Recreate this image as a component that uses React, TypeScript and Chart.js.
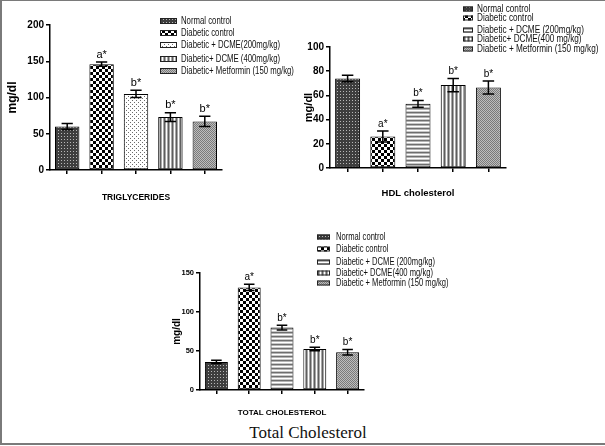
import React, { useEffect, useRef } from "react";
import { Chart, registerables } from "chart.js";

Chart.register(...registerables);

// ---------------- data ----------------
const tgLabels = [
  "Normal control",
  "Diabetic control",
  "Diabetic + DCME(200mg/kg)",
  "Diabetic+ DCME (400mg/kg)",
  "Diabetic+ Metformin (150 mg/kg)",
];
const tgMeans = [60, 146, 105, 73, 67];
const tgErrors = [4, 3, 5, 6, 7];

const hdlLabels = [
  "Normal control",
  "Diabetic control",
  "Diabetic + DCME (200mg/kg)",
  "Diabetic+ DCME(400 mg/kg)",
  "Diabetic + Metformin (150 mg/kg)",
];
const hdlMeans = [74, 26, 53, 68.5, 66.5];
const hdlErrors = [2.7, 4.5, 2.8, 5.5, 5.3];

const tcLabels = [
  "Normal control",
  "Diabetic control",
  "Diabetic + DCME (200mg/kg)",
  "Diabetic+ DCME(400 mg/kg)",
  "Diabetic + Metformin (150 mg/kg)",
];
const tcMeans = [36, 131.5, 80, 52.5, 48.5];
const tcErrors = [2, 4, 3, 2.3, 3.5];

const sigLabels = ["", "a*", "b*", "b*", "b*"];

const tgPatterns = ["dark", "checker", "dots", "vstripes", "fine"];
const hdlPatterns = ["dark", "checker", "hstripes", "vstripes", "fine"];
const tcPatterns = ["dark", "checker", "hstripes", "vstripes", "fine"];

const FONT = "'Liberation Sans', Arial, sans-serif";

// ---------------- patterns ----------------
function makePattern(kind: string): CanvasPattern | string {
  const c = document.createElement("canvas");
  const ctx = c.getContext("2d")!;
  const px = (x: number, y: number, col: string) => {
    ctx.fillStyle = col;
    ctx.fillRect(x, y, 1, 1);
  };
  const base = (w: number, h: number, col: string) => {
    c.width = w;
    c.height = h;
    ctx.fillStyle = col;
    ctx.fillRect(0, 0, w, h);
  };
  if (kind === "dark") {
    base(3, 3, "#3e3e3e");
    px(1, 1, "#b8b8b8");
  } else if (kind === "checker") {
    base(6, 6, "#ffffff");
    ctx.fillStyle = "#000000";
    ctx.fillRect(0, 0, 3, 3);
    ctx.fillRect(3, 3, 3, 3);
  } else if (kind === "dots") {
    base(4, 4, "#ffffff");
    px(0, 0, "#6a6a6a");
    px(2, 2, "#6a6a6a");
  } else if (kind === "vstripes") {
    base(4, 1, "#ffffff");
    px(0, 0, "#5e5e5e");
    px(1, 0, "#a8a8a8");
    px(3, 0, "#a8a8a8");
  } else if (kind === "hstripes") {
    base(1, 4, "#ffffff");
    px(0, 0, "#6e6e6e");
    px(0, 1, "#b4b4b4");
    px(0, 3, "#c8c8c8");
  } else {
    base(2, 2, "#bdbdbd");
    px(0, 0, "#7a7a7a");
    px(1, 1, "#7a7a7a");
  }
  return ctx.createPattern(c, "repeat") || "#999";
}

// ---------------- plugins ----------------
const errorBarPlugin = {
  id: "errorBars",
  afterDatasetsDraw(chart: any, _args: any, opts: any) {
    const ds: any = chart.data.datasets[0];
    const meta = chart.getDatasetMeta(0);
    const y = chart.scales.y;
    const ctx = chart.ctx;
    ctx.save();
    ctx.strokeStyle = "#000";
    ctx.lineWidth = 1.5;
    meta.data.forEach((bar: any, i: number) => {
      const m = ds.data[i];
      const e = ds.errorBars[i];
      const x = bar.x;
      const w = bar.width * 0.46;
      const yTop = y.getPixelForValue(m + e);
      const yBot = y.getPixelForValue(m - e);
      ctx.beginPath();
      ctx.moveTo(x, yTop);
      ctx.lineTo(x, yBot);
      ctx.moveTo(x - w / 2, yTop);
      ctx.lineTo(x + w / 2, yTop);
      ctx.moveTo(x - w / 2, yBot);
      ctx.lineTo(x + w / 2, yBot);
      ctx.stroke();
      const s = ds.sig[i];
      if (s) {
        ctx.fillStyle = "#000";
        ctx.font = `${opts.size || 10}px ${FONT}`;
        ctx.textAlign = "center";
        ctx.textBaseline = "bottom";
        ctx.fillText(s, x, yTop - 2);
      }
    });
    ctx.restore();
  },
};

const boxLegendPlugin = {
  id: "boxLegend",
  afterDraw(chart: any, _args: any, opts: any) {
    const ctx = chart.ctx;
    const labels: string[] = chart.data.labels;
    const fills: any[] = chart.data.datasets[0].backgroundColor;
    ctx.save();
    labels.forEach((lab, i) => {
      const cy = opts.rows[i];
      ctx.fillStyle = fills[i];
      ctx.fillRect(opts.boxX, cy - opts.boxH / 2, opts.boxW, opts.boxH);
      ctx.strokeStyle = "#222";
      ctx.lineWidth = 1;
      ctx.strokeRect(opts.boxX + 0.5, cy - opts.boxH / 2 + 0.5, opts.boxW - 1, opts.boxH - 1);
      ctx.save();
      ctx.translate(opts.textX, cy + 0.5);
      ctx.scale(opts.kx, 1);
      ctx.font = `${opts.size}px ${FONT}`;
      ctx.textAlign = "left";
      ctx.textBaseline = "middle";
      ctx.fillStyle = "#111";
      ctx.fillText(lab, 0, 0);
      ctx.restore();
    });
    ctx.restore();
  },
};

// ---------------- config ----------------
type Spec = {
  labels: string[];
  means: number[];
  errors: number[];
  patterns: string[];
  yMax: number;
  yStep: number;
  xTitle: string;
  pad: { left: number; top: number; right: number; bottom: number };
  yAxisWidth: number;
  xAxisHeight: number;
  yTitlePad: number;
  yTitleSize: number;
  xTitlePad: number;
  xTitleSize: number;
  tickSize: number;
  barPct: number;
  sigSize: number;
  legend: { boxX: number; boxW: number; boxH: number; textX: number; rows: number[]; size: number; kx: number };
};

function buildConfig(s: Spec): any {
  return {
    type: "bar",
    data: {
      labels: s.labels,
      datasets: [
        {
          data: s.means,
          errorBars: s.errors,
          sig: sigLabels,
          backgroundColor: s.patterns.map(makePattern),
          borderColor: "#000",
          borderWidth: 1,
          borderSkipped: false,
          categoryPercentage: 1,
          barPercentage: s.barPct,
        },
      ],
    },
    options: {
      responsive: false,
      animation: false,
      devicePixelRatio: 1,
      layout: { padding: s.pad },
      plugins: {
        legend: { display: false },
        tooltip: { enabled: false },
        title: { display: false },
        errorBars: { size: s.sigSize },
        boxLegend: s.legend,
      },
      scales: {
        x: {
          type: "category",
          grid: {
            display: true,
            drawOnChartArea: false,
            drawTicks: true,
            tickLength: 4,
            offset: false,
            color: "#000",
            lineWidth: 1.5,
          },
          border: { display: true, color: "#000", width: 1.5 },
          ticks: { display: false },
          title: {
            display: true,
            text: s.xTitle,
            color: "#000",
            font: { family: FONT, size: s.xTitleSize, weight: "bold" },
            padding: { top: 0, bottom: s.xTitlePad },
          },
          afterFit: (sc: any) => {
            sc.height = s.xAxisHeight;
          },
        },
        y: {
          type: "linear",
          min: 0,
          max: s.yMax,
          grid: {
            display: true,
            drawOnChartArea: false,
            drawTicks: true,
            tickLength: 4,
            color: "#000",
            lineWidth: 1.5,
          },
          border: { display: true, color: "#000", width: 1.5 },
          ticks: {
            stepSize: s.yStep,
            color: "#000",
            padding: 2,
            font: { family: FONT, size: s.tickSize, weight: "bold" },
          },
          title: {
            display: true,
            text: "mg/dl",
            color: "#000",
            font: { family: FONT, size: s.yTitleSize, weight: "bold" },
            padding: { top: s.yTitlePad, bottom: 0 },
          },
          afterFit: (sc: any) => {
            sc.width = s.yAxisWidth;
          },
        },
      },
    },
    plugins: [errorBarPlugin, boxLegendPlugin],
  };
}

const tgSpec: Spec = {
  labels: tgLabels,
  means: tgMeans,
  errors: tgErrors,
  patterns: tgPatterns,
  yMax: 200,
  yStep: 50,
  xTitle: "TRIGLYCERIDES",
  pad: { left: 0, top: 25, right: 78, bottom: 0 },
  yAxisWidth: 50,
  xAxisHeight: 45,
  yTitlePad: 5,
  yTitleSize: 12,
  xTitlePad: 12,
  xTitleSize: 8.5,
  tickSize: 10,
  barPct: 0.71,
  sigSize: 11,
  legend: { boxX: 160, boxW: 17, boxH: 6, textX: 181, rows: [21, 33, 45, 59, 71], size: 10.5, kx: 0.74 },
};

const hdlSpec: Spec = {
  labels: hdlLabels,
  means: hdlMeans,
  errors: hdlErrors,
  patterns: hdlPatterns,
  yMax: 100,
  yStep: 20,
  xTitle: "HDL cholesterol",
  pad: { left: 0, top: 47, right: 99, bottom: 0 },
  yAxisWidth: 30,
  xAxisHeight: 47,
  yTitlePad: 2,
  yTitleSize: 11,
  xTitlePad: 16,
  xTitleSize: 9.5,
  tickSize: 10,
  barPct: 0.71,
  sigSize: 10,
  legend: { boxX: 163, boxW: 10, boxH: 5, textX: 177, rows: [9, 18, 30, 39, 49], size: 10, kx: 0.82 },
};

const tcSpec: Spec = {
  labels: tcLabels,
  means: tcMeans,
  errors: tcErrors,
  patterns: tcPatterns,
  yMax: 150,
  yStep: 50,
  xTitle: "TOTAL CHOLESTEROL",
  pad: { left: 0, top: 53, right: 86, bottom: 0 },
  yAxisWidth: 50,
  xAxisHeight: 30,
  yTitlePad: 21,
  yTitleSize: 10,
  xTitlePad: 2,
  xTitleSize: 8,
  tickSize: 7.5,
  barPct: 0.7,
  sigSize: 10,
  legend: { boxX: 167, boxW: 13, boxH: 5, textX: 186, rows: [17, 29, 42, 53, 63], size: 10, kx: 0.76 },
};

// ---------------- component ----------------
function Panel({ spec, left, top, width, height }: { spec: Spec; left: number; top: number; width: number; height: number }) {
  const ref = useRef<HTMLCanvasElement>(null);
  useEffect(() => {
    if (!ref.current) return;
    const chart = new Chart(ref.current, buildConfig(spec));
    return () => chart.destroy();
  }, [spec]);
  return (
    <canvas
      ref={ref}
      width={width}
      height={height}
      style={{ position: "absolute", left, top, width, height }}
    />
  );
}

export default function App() {
  return (
    <div
      style={{
        position: "fixed",
        left: 0,
        top: 0,
        width: 605,
        height: 446,
        background: "#fff",
        overflow: "hidden",
      }}
    >
      <div
        style={{
          position: "absolute",
          left: 0,
          top: 0,
          width: 610,
          height: 445,
          boxSizing: "border-box",
          borderLeft: "2px solid #7a7a7a",
          borderTop: "1px solid #7a7a7a",
          borderBottom: "2px solid #7a7a7a",
        }}
      />
      <Panel spec={tgSpec} left={0} top={0} width={300} height={215} />
      <Panel spec={hdlSpec} left={300} top={0} width={305} height={215} />
      <Panel spec={tcSpec} left={150} top={220} width={300} height={200} />
      <div
        style={{
          position: "absolute",
          left: 0,
          width: 616,
          top: 423,
          textAlign: "center",
          fontFamily: "'Liberation Serif', 'Times New Roman', serif",
          fontSize: 17,
          color: "#111",
          lineHeight: "20px",
        }}
      >
        Total Cholesterol
      </div>
    </div>
  );
}
